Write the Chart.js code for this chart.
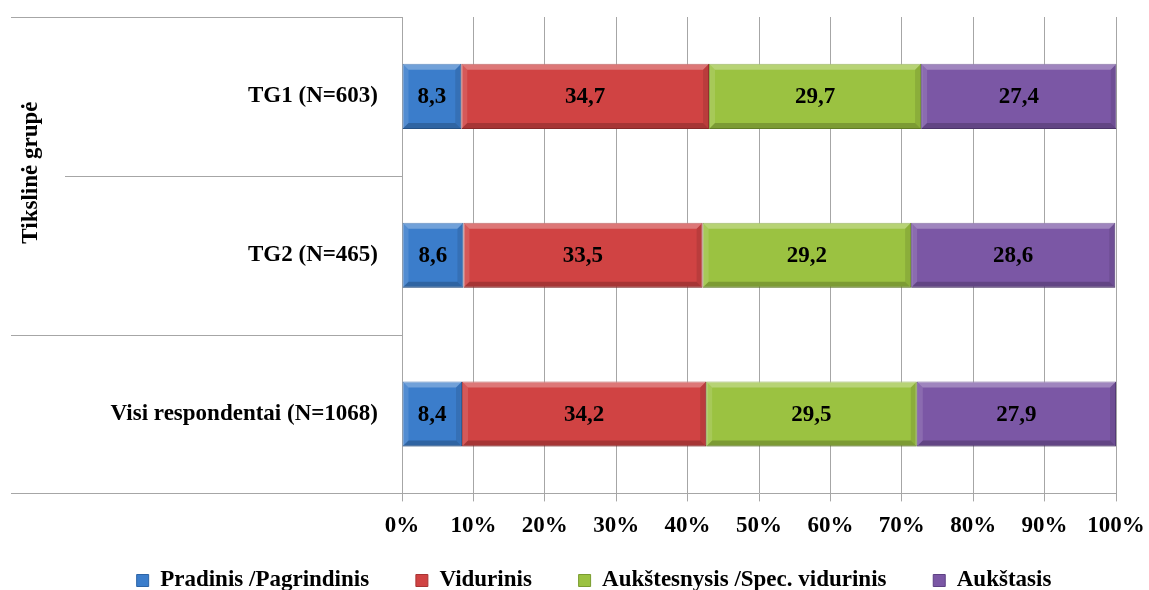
<!DOCTYPE html>
<html>
<head>
<meta charset="utf-8">
<script src="https://cdn.jsdelivr.net/npm/chart.js@4"></script>
<style>
  body { margin: 0; background: #fff; }
  #wrap { width: 1149px; height: 590px; }
</style>
</head>
<body>
<div id="wrap"><canvas id="barChart" width="1149" height="590"></canvas></div>
<script>
"use strict"

// Kategorijos ir reikšmės (procentai)
const categories = ['TG1 (N=603)', 'TG2 (N=465)', 'Visi respondentai (N=1068)'];
const seriesNames = ['Pradinis /Pagrindinis', 'Vidurinis', 'Aukštesnysis /Spec. vidurinis', 'Aukštasis'];
const pradinis = [8.3, 8.6, 8.4];
const vidurinis = [34.7, 33.5, 34.2];
const aukstesnysis = [29.7, 29.2, 29.5];
const aukstasis = [27.4, 28.6, 27.9];
const axisTitle = 'Tikslinė grupė';

const colors = ['#3b7dcb', '#d04343', '#9bc241', '#7b57a5'];
const borders = ['#2d64a6', '#a83434', '#7a9c30', '#5e4184'];
const serif = '"Liberation Serif", "Times New Roman", serif';
const gridColor = '#a6a6a6';

/**
 * Paprastas "bevel" efektas ant juostų, kaip Excel diagramoje.
 */
const bevel = {
    id: 'bevel',
    afterDatasetsDraw(chart) {
        const ctx = chart.ctx;
        const b = 6;
        ctx.save();
        chart.data.datasets.forEach((ds, i) => {
            chart.getDatasetMeta(i).data.forEach(bar => {
                const l = Math.min(bar.x, bar.base), r = Math.max(bar.x, bar.base);
                const t = bar.y - bar.height / 2, btm = bar.y + bar.height / 2;
                const poly = (pts, fill) => {
                    ctx.beginPath();
                    ctx.moveTo(pts[0][0], pts[0][1]);
                    pts.slice(1).forEach(p => ctx.lineTo(p[0], p[1]));
                    ctx.closePath();
                    ctx.fillStyle = fill;
                    ctx.fill();
                };
                poly([[l, t], [r, t], [r - b, t + b], [l + b, t + b]], 'rgba(255,255,255,0.28)');
                poly([[l, t], [l + b, t + b], [l + b, btm - b], [l, btm]], 'rgba(255,255,255,0.12)');
                poly([[r, t], [r, btm], [r - b, btm - b], [r - b, t + b]], 'rgba(0,0,0,0.10)');
                poly([[l, btm], [l + b, btm - b], [r - b, btm - b], [r, btm]], 'rgba(0,0,0,0.20)');
            });
        });
        ctx.restore();
    }
};

/**
 * Piešia reikšmes juostų viduryje (kableliu kaip skirtuku).
 */
const valueLabels = {
    id: 'valueLabels',
    afterDatasetsDraw(chart) {
        const ctx = chart.ctx;
        ctx.save();
        ctx.font = 'bold 23px ' + serif;
        ctx.fillStyle = '#000';
        ctx.textAlign = 'center';
        ctx.textBaseline = 'middle';
        chart.data.datasets.forEach((ds, i) => {
            chart.getDatasetMeta(i).data.forEach((bar, j) => {
                const cx = (bar.x + bar.base) / 2;
                ctx.fillText(ds.data[j].toFixed(1).replace('.', ','), cx, bar.y + 1);
            });
        });
        ctx.restore();
    }
};

/**
 * Kategorijų skyrikliai kairėje ir pasuktas ašies pavadinimas.
 */
const groupLines = {
    id: 'groupLines',
    afterDraw(chart) {
        const ctx = chart.ctx;
        const area = chart.chartArea;
        const band = (area.bottom - area.top) / categories.length;
        ctx.save();
        ctx.strokeStyle = gridColor;
        ctx.lineWidth = 1;
        for (let i = 0; i <= categories.length; i++) {
            const yy = Math.round(area.top + band * i) + 0.5;
            const startX = i === 1 ? 65 : 11;
            ctx.beginPath();
            ctx.moveTo(startX, yy);
            ctx.lineTo(area.left, yy);
            ctx.stroke();
        }
        ctx.translate(31, area.top + band * 0.98);
        ctx.rotate(-Math.PI / 2);
        ctx.font = 'bold 23px ' + serif;
        ctx.fillStyle = '#000';
        ctx.textAlign = 'center';
        ctx.textBaseline = 'middle';
        ctx.fillText(axisTitle, 0, 0);
        ctx.restore();
    }
};

function createBarChart() {
    const ctx = document.getElementById('barChart').getContext('2d');
    const values = [pradinis, vidurinis, aukstesnysis, aukstasis];
    const leftPad = 72;

    new Chart(ctx, {
        type: 'bar',
        data: {
            labels: categories,
            datasets: seriesNames.map((name, i) => ({
                label: name,
                data: values[i],
                backgroundColor: colors[i],
                borderColor: borders[i],
                borderWidth: 1,
                borderSkipped: false,
                barPercentage: 0.41,
                categoryPercentage: 1
            }))
        },
        options: {
            indexAxis: 'y',
            responsive: false,
            animation: false,
            layout: { padding: { top: 17, right: 33, left: leftPad, bottom: -12 } },
            plugins: {
                tooltip: { enabled: false },
                legend: {
                    position: 'bottom',
                    labels: {
                        color: '#000',
                        font: { family: serif, size: 23, weight: 'bold' },
                        boxWidth: 12,
                        boxHeight: 12,
                        padding: 18,
                        // šiek tiek daugiau tarpo tarp legendos elementų
                        generateLabels: chart => Chart.defaults.plugins.legend.labels.generateLabels(chart)
                            .map((item, i, arr) => Object.assign(item, {
                                text: i < arr.length - 1 ? item.text + '     ' : item.text
                            }))
                    }
                }
            },
            scales: {
                x: {
                    stacked: true,
                    min: 0,
                    max: 100,
                    afterFit: scale => {
                        scale.paddingLeft = 0;
                        scale.paddingRight = 0;
                    },
                    ticks: {
                        stepSize: 10,
                        color: '#000',
                        padding: 11,
                        font: { family: serif, size: 23, weight: 'bold' },
                        callback: v => v + '%'
                    },
                    grid: { color: gridColor, tickLength: 8 },
                    border: { color: gridColor }
                },
                y: {
                    stacked: true,
                    afterFit: scale => {
                        scale.width = 402 - leftPad;
                        scale.paddingTop = 0;
                        scale.paddingBottom = 0;
                    },
                    ticks: {
                        color: '#000',
                        padding: 24,
                        font: { family: serif, size: 23, weight: 'bold' }
                    },
                    grid: { display: false, drawTicks: false },
                    border: { color: gridColor }
                }
            }
        },
        plugins: [bevel, valueLabels, groupLines]
    });
}

createBarChart();
</script>
</body>
</html>
